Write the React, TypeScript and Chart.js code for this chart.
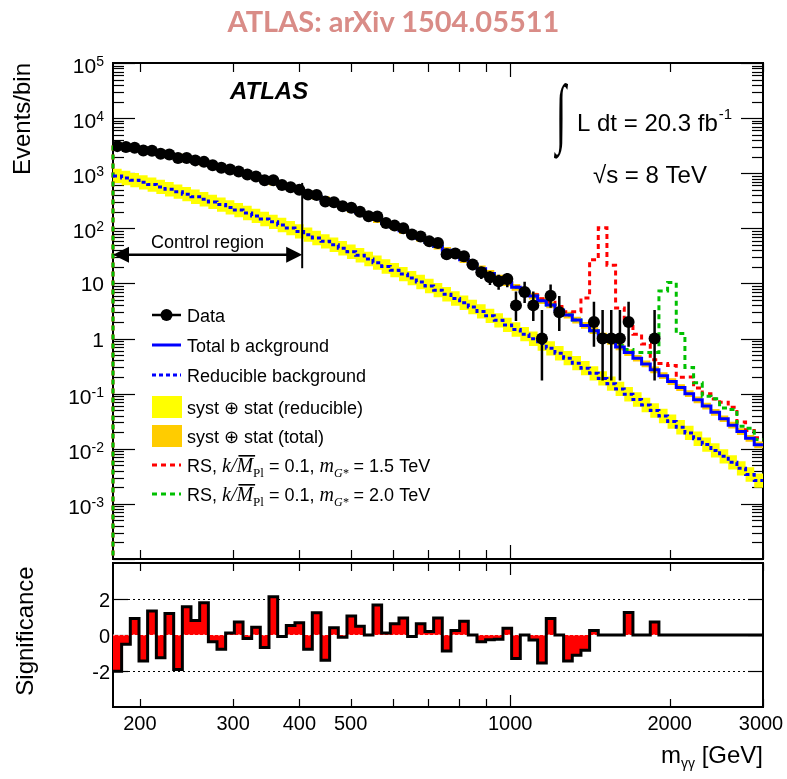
import React, { useEffect, useRef } from 'react';
import { Chart, registerables } from 'chart.js';

Chart.register(...registerables);

// ---------------------------------------------------------------------------
// Diphoton invariant mass spectrum, 75 log-spaced bins (GeV)
// ---------------------------------------------------------------------------
const binEdges = [
  178.0, 184.8, 191.9, 199.3, 206.9, 214.9, 223.1, 231.7, 240.6, 249.8,
  259.4, 269.4, 279.7, 290.4, 301.6, 313.2, 325.2, 337.6, 350.6, 364.1,
  378.0, 392.5, 407.6, 423.2, 439.5, 456.3, 473.8, 492.0, 510.9, 530.5,
  550.9, 572.0, 594.0, 616.8, 640.4, 665.0, 690.5, 717.0, 744.5, 773.1,
  802.8, 833.6, 865.6, 898.8, 933.3, 969.1, 1006.3, 1044.9, 1085.0, 1126.6,
  1169.8, 1214.7, 1261.3, 1309.7, 1360.0, 1412.2, 1466.4, 1522.6, 1581.0, 1641.7,
  1704.7, 1770.1, 1838.0, 1908.6, 1981.8, 2057.8, 2136.8, 2218.8, 2303.9, 2392.3,
  2484.1, 2579.4, 2678.4, 2781.2, 2887.9, 3000.0,
];

// Observed events per bin
const dataCounts = [
  3102, 3000, 2890, 2583, 2548, 2248, 2195, 1894, 1892, 1710,
  1607, 1390, 1251, 1167, 1075, 944, 868, 749, 743, 611,
  557, 499, 412, 401, 306, 297, 252, 237, 199, 166,
  164, 125, 112, 100, 77, 71, 58, 54, 34, 35,
  31, 22, 16, 13, 11, 12, 4, 7, 4, 1,
  6, 3, 0, 0, 0, 2, 1, 1, 1, 2,
  0, 0, 1, 0, 0, 0, 0, 0, 0, 0,
  0, 0, 0, 0, 0,
];

// Total background prediction (events/bin)
const totalBkg = [
  3217, 3028, 2842, 2658, 2481, 2308, 2140, 1979, 1825, 1677,
  1537, 1404, 1279, 1163, 1052, 950, 855, 768, 687, 613,
  545, 484, 428, 377, 331, 290, 254, 221, 192, 166,
  144, 124, 106, 90.8, 77.5, 65.9, 55.9, 47.3, 39.9, 33.5,
  27.0, 22.4, 18.5, 15.2, 12.5, 10.3, 8.5, 7.1, 5.9, 4.85,
  4.08, 3.31, 2.67, 2.16, 1.73, 1.39, 1.11, 0.884, 0.702, 0.556,
  0.439, 0.346, 0.271, 0.212, 0.166, 0.129, 0.0998, 0.0773, 0.0596, 0.0458,
  0.0351, 0.0268, 0.0205, 0.0155, 0.0118,
];

// Reducible (gamma-jet + dijet) background (events/bin)
const reducibleBkg = [
  894, 820, 749, 684, 622, 565, 512, 463, 417, 375,
  337, 302, 270, 240, 214, 190, 168, 148, 131, 115,
  101, 88.0, 76.8, 66.9, 58.1, 50.4, 43.6, 37.6, 32.4, 27.8,
  23.8, 20.3, 17.4, 14.8, 12.5, 10.6, 8.97, 7.56, 6.36, 5.33,
  4.47, 3.73, 3.11, 2.58, 2.14, 1.77, 1.46, 1.20, 0.990, 0.811,
  0.664, 0.542, 0.441, 0.358, 0.290, 0.234, 0.189, 0.152, 0.122, 0.0978,
  0.0782, 0.0623, 0.0496, 0.0393, 0.0311, 0.0246, 0.0194, 0.0152, 0.0119, 0.00935,
  0.00730, 0.00568, 0.00442, 0.00342, 0.00265,
];

// RS graviton signal contributions (events/bin), stacked on the total background
const rs1500Signal = [
  0, 0, 0, 0, 0, 0, 0, 0, 0, 0,
  0, 0, 0, 0, 0, 0, 0, 0, 0, 0,
  0, 0, 0, 0, 0, 0, 0, 0, 0, 0,
  0, 0, 0, 0, 0, 0, 0, 0, 0, 0,
  0, 0, 0, 0, 0, 0, 0.15, 0.25, 0.35, 0.45,
  0.5, 0.5, 0.4, 0.9, 3.7, 25.6, 101, 20.5, 2.9, 1.4,
  0.76, 0.45, 0.14, 0.14, 0.16, 0.07, 0.1, 0.05, 0.04, 0.034,
  0.035, 0.03, 0.01, 0.006, 0.004,
];
const rs2000Signal = [
  0, 0, 0, 0, 0, 0, 0, 0, 0, 0,
  0, 0, 0, 0, 0, 0, 0, 0, 0, 0,
  0, 0, 0, 0, 0, 0, 0, 0, 0, 0,
  0, 0, 0, 0, 0, 0, 0, 0, 0, 0,
  0, 0, 0, 0, 0, 0, 0, 0, 0, 0,
  0, 0, 0, 0, 0, 0, 0.02, 0.03, 0.05, 0.08,
  0.12, 0.21, 0.29, 7.1, 10.2, 1.1, 0.2, 0.08, 0.03, 0.035,
  0.02, 0.025, 0.005, 0.008, 0.003,
];

// Significance of data vs. total background per bin
const significance = [
  -2.02, -0.51, 0.91, -1.45, 1.34, -1.26, 1.19, -1.92, 1.57, 0.81,
  1.79, -0.38, -0.79, 0.11, 0.72, -0.19, 0.43, -0.70, 2.13, -0.09,
  0.53, 0.68, -0.79, 1.23, -1.40, 0.40, -0.13, 1.06, 0.49, 0.0,
  1.66, 0.11, 0.62, 0.94, -0.08, 0.62, 0.19, 0.94, -0.89, 0.25,
  0.77, 0.0, -0.38, -0.26, -0.23, 0.38, -1.30, 0.0, -0.28, -1.55,
  0.91, 0.0, -1.45, -1.13, -0.85, 0.25, 0.0, 0.0, 0.0, 1.25,
  0.0, 0.0, 0.72, 0, 0, 0, 0, 0, 0, 0,
  0, 0, 0, 0, 0,
];

// Relative syst (+) stat uncertainty of the bands
const REDUCIBLE_REL_UNC = 0.35;
const TOTAL_REL_UNC = 0.15;

// 68% Poisson (Garwood) intervals for small counts
const poissonIntervals = [
  [0, 1.84], [0.173, 3.3], [0.708, 4.64], [1.37, 5.92], [2.09, 7.16], [2.84, 8.38],
  [3.62, 9.58], [4.42, 10.77], [5.23, 11.95], [6.06, 13.11], [6.89, 14.27],
];

// Axes
const X_MIN = 178;
const X_MAX = 3000;
const Y_MIN = 1e-4;
const Y_MAX = 1e5;
const SIG_MIN = -4;
const SIG_MAX = 4;
const xLabelTicks = [200, 300, 400, 500, 1000, 2000, 3000];
const xSecondaryTicks = [200, 300, 400, 500, 600, 700, 800, 900, 2000, 3000];
const xMajorTicks = [1000];
const yLabelExponents = [5, 4, 3, 2, 1, 0, -1, -2, -3];
const sigTickLabels = [2, 0, -2];
const controlRegion = [178, 405];
const controlArrowLevel = 33;
const controlBarRange = [18.9, 667];

const SANS = '"Liberation Sans", Arimo, Helvetica, Arial, sans-serif';
const SERIF = '"Liberation Serif", Tinos, "Times New Roman", serif';

const RED = '#ff0000';
const GREEN = '#00c000';
const BLUE = '#0000ff';
const YELLOW = '#ffff00';
const ORANGE = '#ffcc00';

type Pt = { x: number; y: number | null };

function stepPoints(vals: number[], startFromFloor = false): Pt[] {
  const pts: Pt[] = [];
  if (startFromFloor) pts.push({ x: binEdges[0], y: 1e-9 });
  vals.forEach((v, i) => pts.push({ x: binEdges[i], y: v }));
  pts.push({ x: binEdges[vals.length], y: vals[vals.length - 1] });
  return pts;
}

const binCenter = (i: number) => Math.sqrt(binEdges[i] * binEdges[i + 1]);

function countInterval(n: number): [number, number] {
  if (n < poissonIntervals.length) return poissonIntervals[n] as [number, number];
  const s = Math.sqrt(n);
  return [n - s, n + s];
}

function line(ctx: CanvasRenderingContext2D, x1: number, y1: number, x2: number, y2: number) {
  ctx.beginPath();
  ctx.moveTo(x1, y1);
  ctx.lineTo(x2, y2);
  ctx.stroke();
}

function drawFrame(ctx: CanvasRenderingContext2D, a: any) {
  ctx.save();
  ctx.strokeStyle = '#000';
  ctx.lineWidth = 2;
  ctx.strokeRect(a.left, a.top, a.right - a.left, a.bottom - a.top);
  ctx.restore();
}

function drawXTicks(ctx: CanvasRenderingContext2D, xs: any, a: any, secLen: number, majLen: number) {
  ctx.save();
  ctx.strokeStyle = '#000';
  ctx.lineWidth = 1.2;
  const all = [...xSecondaryTicks.map((v) => [v, secLen]), ...xMajorTicks.map((v) => [v, majLen])];
  for (const [v, len] of all) {
    const x = Math.round(xs.getPixelForValue(v)) + 0.5;
    line(ctx, x, a.top, x, a.top + len);
    line(ctx, x, a.bottom, x, a.bottom - len);
  }
  ctx.restore();
}

function drawPowerLabel(ctx: CanvasRenderingContext2D, exp: number, xRight: number, yTick: number) {
  ctx.fillStyle = '#000';
  ctx.textBaseline = 'alphabetic';
  if (exp === 0 || exp === 1) {
    ctx.font = `21px ${SANS}`;
    ctx.textAlign = 'right';
    ctx.fillText(exp === 0 ? '1' : '10', xRight, yTick + 8);
    return;
  }
  ctx.font = `21px ${SANS}`;
  const wBase = ctx.measureText('10').width;
  ctx.font = `14px ${SANS}`;
  const sup = String(exp);
  const wSup = ctx.measureText(sup).width;
  const x0 = xRight - wBase - wSup;
  ctx.textAlign = 'left';
  ctx.font = `21px ${SANS}`;
  ctx.fillText('10', x0, yTick + 10);
  ctx.font = `14px ${SANS}`;
  ctx.fillText(sup, x0 + wBase, yTick + 3);
}

function drawRsLabel(ctx: CanvasRenderingContext2D, x: number, yBase: number, mass: string) {
  let cx = x;
  ctx.textAlign = 'left';
  ctx.textBaseline = 'alphabetic';
  const seg = (txt: string, font: string, dy = 0) => {
    ctx.font = font;
    ctx.fillText(txt, cx, yBase + dy);
    const w = ctx.measureText(txt).width;
    const x0 = cx;
    cx += w;
    return [x0, w];
  };
  seg('RS, ', `18px ${SANS}`);
  seg('k/', `italic 20px ${SERIF}`);
  const [mx, mw] = seg('M', `italic 20px ${SERIF}`);
  ctx.fillRect(mx + 2, yBase - 17, mw, 1.6);
  seg('Pl', `13px ${SERIF}`, 5);
  seg(' = 0.1, ', `18px ${SANS}`);
  seg('m', `italic 20px ${SERIF}`);
  seg('G*', `italic 12px ${SERIF}`, 5);
  seg(` = ${mass} TeV`, `18px ${SANS}`);
}

const mainDecor = {
  id: 'mainDecor',
  beforeDatasetsDraw(chart: any) {
    const { ctx, chartArea: a } = chart;
    const xs = chart.scales.x;
    const ys = chart.scales.y;
    drawFrame(ctx, a);
    ctx.save();
    ctx.strokeStyle = '#000';
    ctx.lineWidth = 1.2;
    for (let k = -4; k <= 5; k++) {
      for (let m = 1; m <= 9; m++) {
        const v = m * Math.pow(10, k);
        if (v < Y_MIN * 0.999 || v > Y_MAX * 1.001) continue;
        const y = Math.round(ys.getPixelForValue(v)) + 0.5;
        const len = m === 1 ? 22 : 11;
        line(ctx, a.left, y, a.left + len, y);
        line(ctx, a.right, y, a.right - len, y);
      }
    }
    ctx.restore();
    drawXTicks(ctx, xs, a, 9, 14);
    ctx.save();
    for (const e of yLabelExponents) {
      drawPowerLabel(ctx, e, 104, ys.getPixelForValue(Math.pow(10, e)));
    }
    // y-axis title
    ctx.translate(30, a.top);
    ctx.rotate(-Math.PI / 2);
    ctx.font = `24px ${SANS}`;
    ctx.textAlign = 'right';
    ctx.textBaseline = 'alphabetic';
    ctx.fillStyle = '#000';
    ctx.fillText('Events/bin', 0, 0);
    ctx.restore();
  },
  afterDraw(chart: any) {
    const { ctx } = chart;
    const xs = chart.scales.x;
    const ys = chart.scales.y;
    ctx.save();
    ctx.fillStyle = '#000';
    ctx.strokeStyle = '#000';

    // experiment label
    ctx.font = `italic bold 24px ${SANS}`;
    ctx.textAlign = 'left';
    ctx.textBaseline = 'alphabetic';
    ctx.fillText('ATLAS', 230, 99);

    // luminosity and energy
    ctx.save();
    ctx.translate(561, 118);
    ctx.scale(0.85, 1.75);
    ctx.font = `44px ${SERIF}`;
    ctx.textAlign = 'center';
    ctx.textBaseline = 'middle';
    ctx.fillText('\u222B', 0, 0);
    ctx.restore();
    ctx.font = `24px ${SANS}`;
    ctx.textAlign = 'left';
    ctx.fillText('L dt = 20.3 fb', 577, 131);
    const wl = ctx.measureText('L dt = 20.3 fb').width;
    ctx.font = `15px ${SANS}`;
    ctx.fillText('-1', 577 + wl + 1, 119);
    ctx.font = `24px ${SANS}`;
    ctx.fillText('\u221As = 8 TeV', 593, 183);

    // control region marker
    const xl = xs.getPixelForValue(controlRegion[0]);
    const xr = xs.getPixelForValue(controlRegion[1]);
    const ya = ys.getPixelForValue(controlArrowLevel);
    ctx.lineWidth = 2.5;
    line(ctx, xl + 10, ya, xr - 10, ya);
    ctx.beginPath();
    ctx.moveTo(xl, ya);
    ctx.lineTo(xl + 16, ya - 8);
    ctx.lineTo(xl + 16, ya + 8);
    ctx.closePath();
    ctx.fill();
    ctx.beginPath();
    ctx.moveTo(xr, ya);
    ctx.lineTo(xr - 16, ya - 8);
    ctx.lineTo(xr - 16, ya + 8);
    ctx.closePath();
    ctx.fill();
    ctx.lineWidth = 2;
    line(ctx, xr, ys.getPixelForValue(controlBarRange[1]), xr, ys.getPixelForValue(controlBarRange[0]));
    ctx.font = `18px ${SANS}`;
    ctx.textAlign = 'center';
    ctx.fillText('Control region', (xl + xr) / 2, ya - 7);

    // legend
    const L0 = 152;
    const L1 = 181;
    const TX = 187;
    const rows = [315, 345, 375, 407, 436, 465, 494];
    ctx.textAlign = 'left';
    ctx.font = `18px ${SANS}`;
    // Data
    ctx.lineWidth = 2.5;
    line(ctx, L0, rows[0], L1, rows[0]);
    ctx.beginPath();
    ctx.arc((L0 + L1) / 2, rows[0], 6, 0, Math.PI * 2);
    ctx.fill();
    ctx.fillText('Data', TX, rows[0] + 7);
    // Total background
    ctx.strokeStyle = BLUE;
    ctx.lineWidth = 3;
    line(ctx, L0, rows[1], L1, rows[1]);
    ctx.fillText('Total b ackground', TX, rows[1] + 7);
    // Reducible background
    ctx.setLineDash([4, 3]);
    line(ctx, L0, rows[2], L1, rows[2]);
    ctx.setLineDash([]);
    ctx.fillText('Reducible background', TX, rows[2] + 7);
    // bands
    ctx.fillStyle = YELLOW;
    ctx.fillRect(L0, rows[3] - 11, L1 - L0 + 1, 22);
    ctx.fillStyle = ORANGE;
    ctx.fillRect(L0, rows[4] - 11, L1 - L0 + 1, 22);
    ctx.fillStyle = '#000';
    ctx.fillText('syst \u2295 stat (reducible)', TX, rows[3] + 7);
    ctx.fillText('syst \u2295 stat (total)', TX, rows[4] + 7);
    // signals
    ctx.setLineDash([5, 4]);
    ctx.strokeStyle = RED;
    line(ctx, L0, rows[5], L1, rows[5]);
    ctx.strokeStyle = GREEN;
    line(ctx, L0, rows[6], L1, rows[6]);
    ctx.setLineDash([]);
    drawRsLabel(ctx, TX, rows[5] + 7, '1.5');
    drawRsLabel(ctx, TX, rows[6] + 7, '2.0');
    ctx.restore();
  },
};

const sigDecor = {
  id: 'sigDecor',
  beforeDatasetsDraw(chart: any) {
    const { ctx, chartArea: a } = chart;
    const xs = chart.scales.x;
    const ys = chart.scales.y;
    drawFrame(ctx, a);
    drawXTicks(ctx, xs, a, 8, 12);
    ctx.save();
    ctx.strokeStyle = '#000';
    ctx.lineWidth = 1.2;
    ctx.fillStyle = '#000';
    for (const v of sigTickLabels) {
      const y = Math.round(ys.getPixelForValue(v)) + 0.5;
      if (v !== 0) {
        ctx.setLineDash([2, 3]);
        line(ctx, a.left, y, a.right, y);
        ctx.setLineDash([]);
      }
      line(ctx, a.left, y, a.left + 15, y);
      line(ctx, a.right, y, a.right - 15, y);
      ctx.font = `20px ${SANS}`;
      ctx.textAlign = 'right';
      ctx.textBaseline = 'alphabetic';
      ctx.fillText(String(v), 110, y + 7);
    }
    // x tick labels
    ctx.font = `20px ${SANS}`;
    ctx.textAlign = 'center';
    for (const v of xLabelTicks) {
      const x = xs.getPixelForValue(v);
      ctx.fillText(String(v), v === 3000 ? x - 2 : x, a.bottom + 23);
    }
    // x-axis title
    ctx.textAlign = 'left';
    ctx.font = `24px ${SANS}`;
    const wUnit = ctx.measureText(' [GeV]').width;
    const wM = ctx.measureText('m').width;
    ctx.font = `14px ${SANS}`;
    const wSub = ctx.measureText('\u03B3\u03B3').width;
    let tx = a.right - wUnit - wSub - wM;
    const tb = a.bottom + 56;
    ctx.font = `24px ${SANS}`;
    ctx.fillText('m', tx, tb);
    tx += wM;
    ctx.font = `14px ${SANS}`;
    ctx.fillText('\u03B3\u03B3', tx, tb + 5);
    tx += wSub;
    ctx.font = `24px ${SANS}`;
    ctx.fillText(' [GeV]', tx, tb);
    // y-axis title
    ctx.translate(33, (a.top + a.bottom) / 2 - 4);
    ctx.rotate(-Math.PI / 2);
    ctx.textAlign = 'center';
    ctx.fillText('Significance', 0, 0);
    ctx.restore();
  },
};

function buildMainConfig(): any {
  const dataPts: Pt[] = [];
  const errPts: Pt[] = [];
  dataCounts.forEach((n, i) => {
    if (n <= 0) return;
    const c = binCenter(i);
    dataPts.push({ x: c, y: n });
    const [lo, hi] = countInterval(n);
    errPts.push({ x: c, y: lo }, { x: c, y: hi }, { x: c, y: null });
  });
  const rs1500 = totalBkg.map((b, i) => b + rs1500Signal[i]);
  const rs2000 = totalBkg.map((b, i) => b + rs2000Signal[i]);
  const band = (vals: number[], f: number) => vals.map((v) => v * f);
  const stepBase = { stepped: true, pointRadius: 0, borderJoinStyle: 'miter', borderCapStyle: 'butt' };
  return {
    type: 'line',
    data: {
      datasets: [
        { ...stepBase, data: stepPoints(band(reducibleBkg, 1 + REDUCIBLE_REL_UNC)), borderWidth: 0, fill: '+1', backgroundColor: YELLOW, order: 20 },
        { ...stepBase, data: stepPoints(band(reducibleBkg, 1 / (1 + REDUCIBLE_REL_UNC))), borderWidth: 0, fill: false, order: 19 },
        { ...stepBase, data: stepPoints(band(totalBkg, 1 + TOTAL_REL_UNC)), borderWidth: 0, fill: '+1', backgroundColor: ORANGE, order: 18 },
        { ...stepBase, data: stepPoints(band(totalBkg, 1 / (1 + TOTAL_REL_UNC))), borderWidth: 0, fill: false, order: 17 },
        { ...stepBase, data: stepPoints(rs1500, true), borderColor: RED, borderWidth: 3, borderDash: [5, 4], fill: false, order: 16, clip: { left: 4, top: 0, right: 0, bottom: 0 } },
        { ...stepBase, data: stepPoints(rs2000, true), borderColor: GREEN, borderWidth: 3, borderDash: [5, 4], fill: false, order: 15, clip: { left: 4, top: 0, right: 0, bottom: 0 } },
        { ...stepBase, data: stepPoints(reducibleBkg), borderColor: BLUE, borderWidth: 3, borderDash: [4, 3], fill: false, order: 14 },
        { ...stepBase, data: stepPoints(totalBkg), borderColor: BLUE, borderWidth: 3, fill: false, order: 13 },
        { data: errPts, borderColor: '#000', borderWidth: 2.5, pointRadius: 0, fill: false, spanGaps: false, order: 12 },
        { data: dataPts, showLine: false, pointRadius: 6, pointBackgroundColor: '#000', pointBorderWidth: 0, order: 11 },
      ],
    },
    options: {
      animation: false,
      responsive: false,
      devicePixelRatio: 1,
      events: [],
      layout: { padding: { left: 113, top: 63, right: 24, bottom: 2 } },
      scales: {
        x: { type: 'logarithmic', min: X_MIN, max: X_MAX, display: false },
        y: { type: 'logarithmic', min: Y_MIN, max: Y_MAX, display: false },
      },
      plugins: { legend: { display: false }, tooltip: { enabled: false } },
    },
    plugins: [mainDecor],
  };
}

function buildSigConfig(): any {
  const stepBase = { stepped: true, pointRadius: 0, borderJoinStyle: 'miter', borderCapStyle: 'butt' };
  return {
    type: 'line',
    data: {
      datasets: [
        { ...stepBase, data: stepPoints(significance), borderWidth: 0, fill: 'origin', backgroundColor: RED, order: 3 },
        { data: [{ x: X_MIN, y: 0 }, { x: X_MAX, y: 0 }], borderColor: 'rgba(255,255,255,0.85)', borderWidth: 1, borderDash: [2, 3], pointRadius: 0, fill: false, order: 2 },
        { ...stepBase, data: stepPoints(significance), borderColor: '#000', borderWidth: 3, fill: false, order: 1 },
      ],
    },
    options: {
      animation: false,
      responsive: false,
      devicePixelRatio: 1,
      events: [],
      layout: { padding: { left: 113, top: 3, right: 24, bottom: 72 } },
      scales: {
        x: { type: 'logarithmic', min: X_MIN, max: X_MAX, display: false },
        y: { type: 'linear', min: SIG_MIN, max: SIG_MAX, display: false },
      },
      plugins: { legend: { display: false }, tooltip: { enabled: false } },
    },
    plugins: [sigDecor],
  };
}

export default function App() {
  const mainRef = useRef<HTMLCanvasElement>(null);
  const sigRef = useRef<HTMLCanvasElement>(null);

  useEffect(() => {
    const main = new Chart(mainRef.current as HTMLCanvasElement, buildMainConfig());
    const sig = new Chart(sigRef.current as HTMLCanvasElement, buildSigConfig());
    return () => {
      main.destroy();
      sig.destroy();
    };
  }, []);

  return (
    <div style={{ position: 'fixed', left: 0, top: 0, width: 787, height: 779, background: '#fff', overflow: 'hidden' }}>
      <canvas ref={mainRef} width={787} height={565} style={{ position: 'absolute', left: 0, top: 0 }} />
      <canvas ref={sigRef} width={787} height={219} style={{ position: 'absolute', left: 0, top: 560 }} />
      <div
        style={{
          position: 'absolute',
          left: 0,
          top: 3,
          width: 787,
          textAlign: 'center',
          fontFamily: 'Lato, "Open Sans", sans-serif',
          fontWeight: 700,
          fontSize: 29,
          color: '#d98c87',
        }}
      >
        ATLAS: arXiv 1504.05511
      </div>
    </div>
  );
}
